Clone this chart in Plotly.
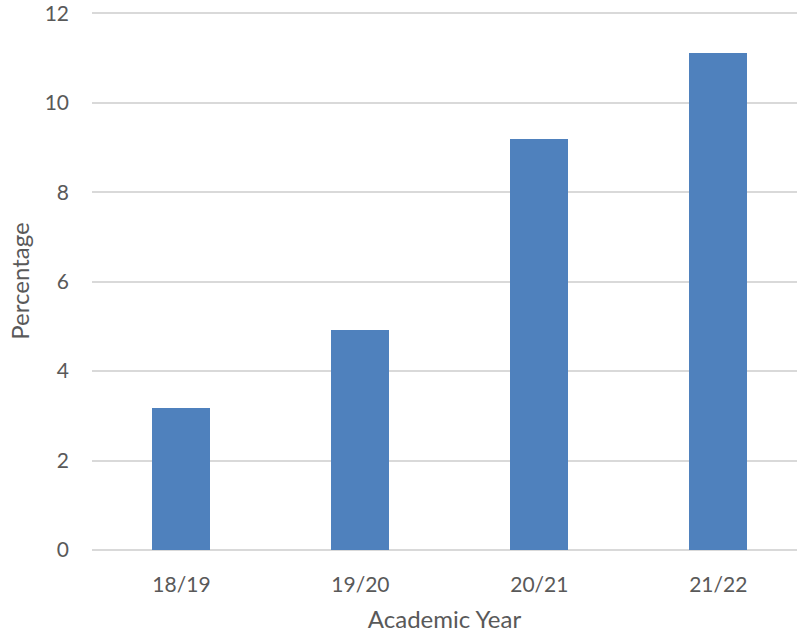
import plotly.graph_objects as go

years = ["18/19", "19/20", "20/21", "21/22"]
percentages = [3.17, 4.93, 9.18, 11.11]
y_ticks = [0, 2, 4, 6, 8, 10, 12]

fig = go.Figure(go.Bar(x=years, y=percentages, marker_color="#4F81BD",
                       marker_line_width=0, width=0.324))

font_family = "Lato, 'Open Sans', sans-serif"
fig.update_layout(
    width=797, height=633,
    margin=dict(l=92, r=0, t=12, b=83),
    plot_bgcolor="white", paper_bgcolor="white",
    font=dict(family=font_family, size=21, color="#595959"),
    showlegend=False,
    bargap=0,
)
fig.update_xaxes(
    range=[-0.5, 3.44], showgrid=False, showline=False, ticks="",
    title=dict(text="Academic Year", standoff=20, font=dict(size=24)),
    ticklabelstandoff=20,
)
fig.update_yaxes(
    range=[0, 12.03], tickvals=y_ticks, showgrid=True, gridcolor="#D9D9D9",
    gridwidth=1.5, zeroline=True, zerolinecolor="#D9D9D9", zerolinewidth=1.5,
    showline=False, ticks="", ticklabelstandoff=22, ticklabeloverflow="allow",
    title=dict(text="Percentage", standoff=8, font=dict(size=24)),
)
fig.write_html("out.html")
